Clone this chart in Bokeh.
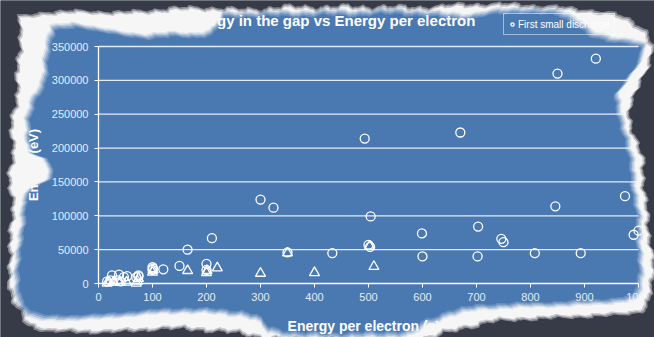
import numpy as np
from bokeh.plotting import figure
from bokeh.models import (SingleIntervalTicker, BasicTickFormatter, PolyAnnotation,
                          Legend, LegendItem, Label, Range1d)
from bokeh.embed import file_html
from bokeh.resources import INLINE

# ---- data ---------------------------------------------------------------
# first small discharge (open circles): energy per electron (eV) vs energy in the gap (eV)
first_energy_per_electron = [16, 22, 25, 35, 38, 41, 47, 53, 70, 74,
                             74, 100, 100, 101, 120, 150, 165, 200, 200, 210,
                             300, 324, 350, 433, 493, 500, 503, 504, 599, 600,
                             670, 702, 703, 746, 750, 808, 846, 850, 893, 921,
                             975, 991, 1000]
first_gap_energy = [3000, 4500, 12000, 4500, 13000, 3000, 9500, 11000, 9000, 12000,
                    10500, 20000, 24000, 22000, 21000, 26000, 50000, 29000, 20000, 67000,
                    124000, 112000, 46000, 45000, 214000, 57000, 54000, 99000, 74000, 40000,
                    223000, 40000, 84000, 66000, 61000, 45000, 114000, 310000, 45000, 332000,
                    129000, 72000, 78000]

# second series (open triangles)
tri_energy_per_electron = [16, 20, 28, 40, 52, 70, 72, 74, 100, 101,
                           165, 200, 201, 220, 300, 350, 400, 502, 510]
tri_gap_energy = [500, 1500, 2500, 1500, 2000, 500, 3500, 7500, 16500, 19500,
                  19000, 16000, 19000, 23000, 15000, 45000, 16000, 55000, 25000]

x_tick_step = 100
y_tick_step = 50000
x_limits = (0, 1000)
y_limits = (0, 350000)
grid_levels = list(range(y_tick_step, y_limits[1] + 1, y_tick_step))

# ---- layout -----------------------------------------------------------------
# The frame fills the whole canvas; the axes sit at fixed positions inside it so
# that the torn-paper border can be painted over every part of the chart.
W, H = 654, 337
FL, FR, FT, FB = 98, 638, 46, 283          # plotting box in canvas pixels
BLUE = "#4a79b2"
LIGHT = "#e4ebf4"
PAPER = "#f6f6f6"
DARK = "#373a47"
FONT = "Liberation Sans"

x_per_px = (x_limits[1] - x_limits[0]) / (FR - FL)
y_per_px = (y_limits[1] - y_limits[0]) / (FB - FT)
x_range = Range1d(x_limits[0] - FL * x_per_px, x_limits[1] + (W - FR) * x_per_px)
y_range = Range1d(y_limits[0] - (H - FB) * y_per_px, y_limits[1] + FT * y_per_px)

p = figure(width=W, height=H, x_range=x_range, y_range=y_range,
           output_backend="svg", toolbar_location=None,
           min_border=0, min_border_left=0, min_border_right=0,
           min_border_top=0, min_border_bottom=0,
           background_fill_color=BLUE, border_fill_color=BLUE,
           outline_line_color=None)
p.title.visible = False

p.xaxis.ticker = SingleIntervalTicker(interval=x_tick_step)
p.yaxis.ticker = SingleIntervalTicker(interval=y_tick_step)
p.yaxis.formatter = BasicTickFormatter(use_scientific=False)
p.xaxis.fixed_location = y_limits[0]
p.yaxis.fixed_location = x_limits[0]
p.xaxis.bounds = x_limits
p.yaxis.bounds = y_limits

for ax in (p.xaxis, p.yaxis):
    ax.axis_line_color = "white"
    ax.axis_line_width = 1.3
    ax.major_tick_line_color = "white"
    ax.major_tick_in = 0
    ax.major_tick_out = 4
    ax.minor_tick_line_color = None
    ax.major_label_text_color = LIGHT
    ax.major_label_text_font = FONT
    ax.major_label_text_font_size = "11px"
    ax.axis_label_text_color = "white"
    ax.axis_label_text_font = FONT
    ax.axis_label_text_font_style = "bold"

p.xaxis.axis_label = "Energy per electron (eV)"
p.xaxis.axis_label_text_font_size = "14px"
p.xaxis.major_label_standoff = 5
p.xaxis.axis_label_standoff = 14
p.yaxis.axis_label = "Energy (eV)"
p.yaxis.axis_label_text_font_size = "13px"
p.yaxis.major_label_standoff = 6
p.yaxis.axis_label_standoff = 8

p.xgrid.visible = False
p.ygrid.visible = False
# horizontal gridlines limited to the plotting box
p.segment(x0=x_limits[0], x1=x_limits[1], y0=grid_levels, y1=grid_levels,
          line_color=LIGHT, line_width=1.3)

circles = p.scatter(first_energy_per_electron, first_gap_energy, marker="circle",
                    size=9, fill_color=None, line_color="white", line_width=1.3)
p.scatter(tri_energy_per_electron, tri_gap_energy, marker="triangle",
          size=10, fill_color=None, line_color="white", line_width=1.3)

legend = Legend(items=[LegendItem(label="First small discharge", renderers=[circles])],
                location=(503, H - 35), orientation="horizontal",
                background_fill_alpha=0, border_line_color="white", border_line_width=1,
                label_text_color="white", label_text_font=FONT, label_text_font_size="10px",
                label_height=12, glyph_height=12, glyph_width=8, label_standoff=2,
                padding=4, margin=0, spacing=6)
p.add_layout(legend)


# ---- helpers: canvas pixels -> data units --------------------------------
def to_dx(px):
    return x_limits[0] + (np.asarray(px, float) - FL) * x_per_px


def to_dy(py):
    return y_limits[0] + (FB - np.asarray(py, float)) * y_per_px


p.add_layout(Label(x=float(to_dx(329)), y=float(to_dy(20)),
                   text="Energy in the gap vs Energy per electron",
                   text_align="center", text_baseline="middle",
                   text_font=FONT, text_font_size="15px", text_font_style="bold",
                   text_color="white"))

# ---- torn paper frame ------------------------------------------------------
inner_edge = [(52, 27), (75, 24), (100, 29), (122, 33), (145, 35), (170, 33), (195, 34),
              (212, 31), (219, 22), (224, 14), (250, 13), (280, 12), (320, 11), (360, 12),
              (400, 10), (440, 13), (470, 15), (492, 11), (520, 9), (560, 11), (578, 20),
              (592, 33), (610, 38), (632, 40), (642, 44), (640, 58), (630, 75), (616, 95),
              (620, 115), (628, 135), (632, 165), (635, 195), (639, 225), (641, 255),
              (641, 285), (636, 298), (610, 301), (575, 303), (540, 305), (505, 306),
              (475, 308), (450, 312), (428, 322), (410, 333), (380, 336), (340, 336),
              (300, 335), (268, 330), (255, 318), (240, 314), (215, 312), (185, 310),
              (160, 311), (130, 314), (100, 317), (70, 318), (45, 318), (28, 314),
              (18, 298), (14, 275), (18, 250), (20, 225), (22, 205), (30, 188), (46, 180),
              (51, 168), (44, 158), (30, 152), (25, 135), (26, 118), (32, 100), (42, 80),
              (46, 55), (50, 38)]

outer_edge = [(20, 16), (45, 12), (80, 10), (120, 11), (160, 9), (200, 7), (240, 8),
              (280, 6), (330, 7), (380, 5), (430, 6), (470, 4), (520, 3), (560, 6),
              (590, 10), (615, 14), (635, 22), (648, 32), (652, 45), (650, 65), (640, 85),
              (630, 100), (628, 115), (634, 135), (642, 160), (646, 190), (648, 220),
              (652, 250), (652, 280), (650, 300), (640, 312), (610, 316), (570, 317),
              (530, 318), (490, 322), (460, 330), (430, 338), (400, 341), (360, 342),
              (320, 342), (280, 340), (245, 333), (200, 330), (160, 329), (120, 331),
              (80, 332), (45, 331), (25, 325), (12, 300), (8, 270), (10, 240), (10, 205),
              (8, 175), (12, 150), (12, 120), (16, 90), (16, 60), (18, 35)]

canvas_box = [(-10, -10), (W + 10, -10), (W + 10, H + 10), (-10, H + 10)]
CENTER = np.array([330.0, 170.0])


def roughen(points, step=2.5, amp=1.1, phase=0.0):
    pts = np.array(list(points) + [points[0]], float)
    dense = []
    for a, b in zip(pts[:-1], pts[1:]):
        n = max(1, int(np.hypot(*(b - a)) / step))
        for k in range(n):
            dense.append(a + (b - a) * k / n)
    dense = np.array(dense)
    t = np.arange(len(dense))
    radial = dense - CENTER
    radial /= np.linalg.norm(radial, axis=1)[:, None]
    wobble = amp * (np.sin(t * 0.83 + phase) + 0.8 * np.sin(t * 0.29 + 1.0 + phase)
                    + 0.45 * np.sin(t * 2.2 + 2.0) + 0.6 * np.sin(t * 0.11 + phase))
    return dense + radial * wobble[:, None]


def grow(path, d):
    sx = 1 + d / 300.0
    sy = 1 + d / 145.0
    return CENTER + (path - CENTER) * np.array([sx, sy])


def ring(outer, hole):
    outer = np.asarray(outer, float)
    hole = np.asarray(hole, float)
    back = np.vstack([hole[:1], hole[:0:-1], hole[:1]])
    pts = np.vstack([outer, outer[:1], back])
    return to_dx(pts[:, 0]).tolist(), to_dy(pts[:, 1]).tolist()


inner_path = roughen(inner_edge, amp=1.1)
outer_path = roughen(outer_edge, amp=1.6, phase=0.8)

# white paper with a soft inner edge
for d, alpha in ((-3.5, 0.18), (-2.0, 0.25), (-0.5, 0.4), (1.0, 0.6), (2.5, 1.0)):
    xs, ys = ring(canvas_box, grow(inner_path, d))
    p.add_layout(PolyAnnotation(xs=xs, ys=ys, fill_color=PAPER, fill_alpha=alpha,
                                line_color=None, level="overlay"))

# dark surround beyond the torn edge
for d, alpha in ((-2.5, 0.25), (-1.0, 0.45), (0.5, 1.0)):
    xs, ys = ring(canvas_box, grow(outer_path, d))
    p.add_layout(PolyAnnotation(xs=xs, ys=ys, fill_color=DARK, fill_alpha=alpha,
                                line_color=None, level="overlay"))

open("out.html", "w").write(file_html(p, INLINE))
